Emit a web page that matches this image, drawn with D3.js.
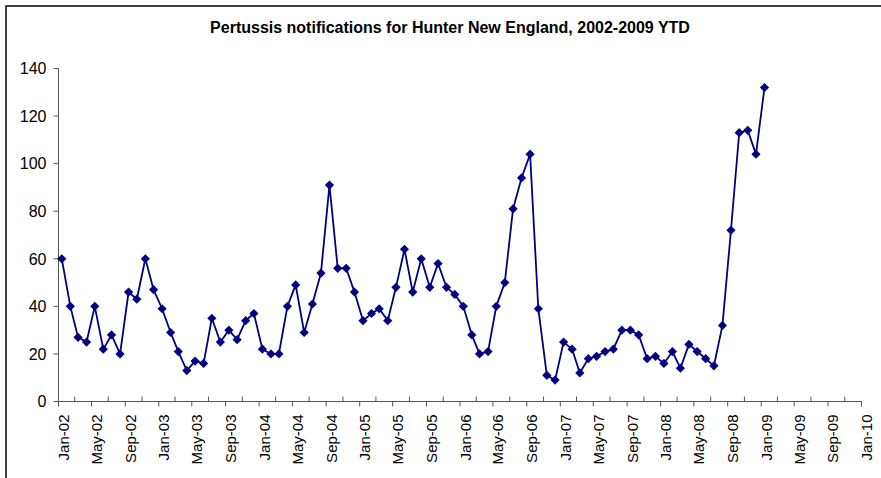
<!DOCTYPE html>
<html>
<head>
  <meta charset="utf-8">
  <script src="https://cdn.jsdelivr.net/npm/d3@7"></script>
  <style>
    body { margin: 0; background: #fff; }
    text { font-family: Arial, "Liberation Sans", sans-serif; }
  </style>
</head>
<body>
  <svg width="881" height="478" id="chart"></svg>
  <script>
    // monthly notifications, Jan-02 .. Jan-09
    const startMonth = [2002, 0];
    const counts = [
      60, 40, 27, 25, 40, 22, 28, 20, 46, 43, 60, 47,   // 2002
      39, 29, 21, 13, 17, 16, 35, 25, 30, 26, 34, 37,   // 2003
      22, 20, 20, 40, 49, 29, 41, 54, 91, 56, 56, 46,   // 2004
      34, 37, 39, 34, 48, 64, 46, 60, 48, 58, 48, 45,   // 2005
      40, 28, 20, 21, 40, 50, 81, 94, 104, 39, 11, 9,   // 2006
      25, 22, 12, 18, 19, 21, 22, 30, 30, 28, 18, 19,   // 2007
      16, 21, 14, 24, 21, 18, 15, 32, 72, 113, 114, 104, // 2008
      132                                               // Jan 2009
    ];
    const yTicks = [0, 20, 40, 60, 80, 100, 120, 140];
    const title = 'Pertussis notifications for Hunter New England, 2002-2009 YTD';

    const svg = d3.select('#chart');
    const x0 = 58.5, x1 = 861.5, yTop = 68.5, yBot = 401.5;

    const data = counts.map((v, i) => ({
      date: new Date(startMonth[0], startMonth[1] + i, 13),
      value: v
    }));

    const xScale = d3.scaleTime()
      .domain([new Date(2002, 0, 1), new Date(2010, 0, 1)])
      .range([x0, x1]);
    const yScale = d3.scaleLinear().domain([0, 140]).range([yBot, yTop]);

    // chart frame
    svg.append('rect')
      .attr('x', 6).attr('y', 6)
      .attr('width', 1000).attr('height', 1000)
      .attr('fill', 'none').attr('stroke', '#000').attr('stroke-width', 1.5);

    svg.append('text')
      .attr('x', 450).attr('y', 33)
      .attr('text-anchor', 'middle')
      .attr('font-size', 16).attr('font-weight', 'bold')
      .text(title);

    const axisColor = '#555';

    // y axis
    const yAxis = svg.append('g');
    yAxis.append('line')
      .attr('x1', x0).attr('x2', x0).attr('y1', yTop).attr('y2', yBot)
      .attr('stroke', axisColor);
    yAxis.selectAll('.yt').data(yTicks).join('line')
      .attr('x1', x0 - 5).attr('x2', x0)
      .attr('y1', d => yScale(d)).attr('y2', d => yScale(d))
      .attr('stroke', axisColor);
    yAxis.selectAll('text').data(yTicks).join('text')
      .attr('x', x0 - 12).attr('y', d => yScale(d))
      .attr('dy', '0.36em')
      .attr('text-anchor', 'end')
      .attr('font-size', 16)
      .text(d => d);

    // x axis: minor ticks every 2 months (inside), labels every 4 months
    const tickDates = d3.timeMonth.every(2).range(new Date(2002, 0, 1), new Date(2010, 0, 2));
    const xAxis = svg.append('g');
    xAxis.append('line')
      .attr('x1', x0).attr('x2', x1).attr('y1', yBot).attr('y2', yBot)
      .attr('stroke', axisColor);
    xAxis.selectAll('.xt').data(tickDates).join('line')
      .attr('x1', d => xScale(d)).attr('x2', d => xScale(d))
      .attr('y1', yBot)
      .attr('y2', d => d.getMonth() % 4 === 0 ? yBot + 5 : yBot - 5)
      .attr('stroke', axisColor);
    const fmt = d3.timeFormat('%b-%y');
    xAxis.selectAll('text').data(tickDates.filter(d => d.getMonth() % 4 === 0)).join('text')
      .attr('transform', d => `translate(${xScale(d) + 10.5},${yBot + 13}) rotate(-90)`)
      .attr('text-anchor', 'end')
      .attr('font-size', 15)
      .text(d => fmt(d));

    // series
    const line = d3.line().x(d => xScale(d.date)).y(d => yScale(d.value));
    svg.append('path')
      .datum(data)
      .attr('d', line)
      .attr('fill', 'none')
      .attr('stroke', '#000080')
      .attr('stroke-width', 1.8);

    const r = 4.6;
    svg.selectAll('.marker').data(data).join('path')
      .attr('class', 'marker')
      .attr('transform', d => `translate(${xScale(d.date)},${yScale(d.value)})`)
      .attr('d', `M0,${-r}L${r},0L0,${r}L${-r},0Z`)
      .attr('fill', '#000080');
  </script>
</body>
</html>
